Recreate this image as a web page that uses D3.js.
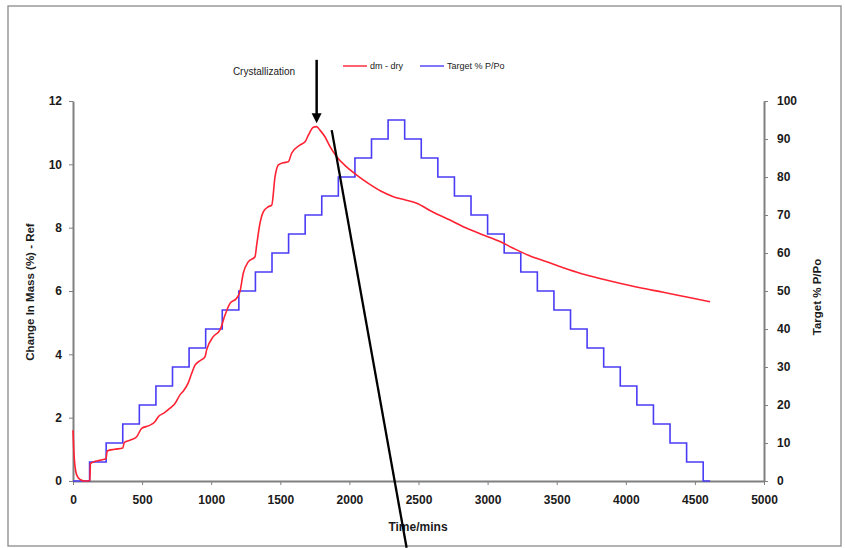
<!DOCTYPE html>
<html>
<head>
<meta charset="utf-8">
<script src="https://cdn.jsdelivr.net/npm/d3@7"></script>
<style>
  html, body { margin: 0; padding: 0; background: #fff; }
  svg { display: block; font-family: "Liberation Sans", Arial, sans-serif; }
</style>
</head>
<body>
<svg id="chart" width="845" height="548"></svg>
<script>
// ---- Data ----
const xTicks = [0, 500, 1000, 1500, 2000, 2500, 3000, 3500, 4000, 4500, 5000];
const leftTicks = [0, 2, 4, 6, 8, 10, 12];
const rightTicks = [0, 10, 20, 30, 40, 50, 60, 70, 80, 90, 100];

// Target % P/Po (step series): step start times (mins) and values (%)
const stepTimes = [0, 120, 240, 360, 480, 600, 720, 840, 960, 1080, 1200, 1320, 1440, 1560, 1680, 1800, 1920, 2040, 2160, 2280,
                   2400, 2520, 2640, 2760, 2880, 3000, 3120, 3240, 3360, 3480, 3600, 3720, 3840, 3960, 4080, 4200, 4320, 4440, 4560, 4610];
const targetPct = [0, 5, 10, 15, 20, 25, 30, 35, 40, 45, 50, 55, 60, 65, 70, 75, 80, 85, 90, 95,
                   90, 85, 80, 75, 70, 65, 60, 55, 50, 45, 40, 35, 30, 25, 20, 15, 10, 5, 0, 0];

// dm - dry (change in mass %)
const dmTime = [0, 5, 10, 20, 35, 55, 80, 110, 122, 126, 160, 200, 238, 248, 300, 360, 372, 420, 461, 497, 550, 593, 617, 660,
                702, 738, 774, 800, 834, 859, 883, 920, 955, 967, 1015, 1064, 1100, 1136, 1184, 1208, 1232, 1268, 1317, 1329,
                1353, 1377, 1413, 1438, 1462, 1486, 1522, 1558, 1582, 1642, 1679, 1703, 1739, 1763, 1787, 1823, 1860, 1908,
                1980, 2053, 2137, 2230, 2318, 2400, 2487, 2600, 2728, 2850, 2969, 3090, 3186, 3300, 3428, 3550, 3669, 3790,
                3910, 4103, 4271, 4450, 4610];
const dmValue = [1.6, 1.05, 0.68, 0.3, 0.12, 0.04, 0.0, 0.0, 0.02, 0.55, 0.62, 0.66, 0.7, 0.95, 1.0, 1.04, 1.22, 1.3, 1.4, 1.66, 1.75, 1.87, 2.03, 2.15,
                 2.3, 2.45, 2.72, 2.85, 3.1, 3.4, 3.66, 3.8, 3.92, 4.14, 4.56, 4.77, 5.24, 5.61, 5.77, 5.98, 6.56, 6.92, 7.08, 7.45,
                 8.14, 8.5, 8.66, 8.71, 9.61, 9.98, 10.05, 10.08, 10.35, 10.61, 10.71, 10.92, 11.17, 11.19, 11.08, 10.87, 10.56, 10.24,
                 9.92, 9.66, 9.4, 9.15, 8.98, 8.88, 8.77, 8.5, 8.24, 7.98, 7.77, 7.56, 7.35, 7.12, 6.92, 6.73, 6.56, 6.42,
                 6.29, 6.1, 5.96, 5.8, 5.66];

// Annotations (data coordinates)
const crystalArrow = { time: 1763, from: 13.3, to: 11.3 };
const diagLine = { t1: 1872, v1: 11.08, t2: 2414, v2: -2.11 };

// ---- Layout ----
const svg = d3.select("#chart");
const x = d3.scaleLinear().domain([0, 5000]).range([73, 764]);
const yL = d3.scaleLinear().domain([0, 12]).range([481, 101]);
const yR = d3.scaleLinear().domain([0, 100]).range([481, 101]);

// outer frame
svg.append("rect").attr("x", 8).attr("y", 6).attr("width", 833).attr("height", 540)
  .attr("fill", "#fff").attr("stroke", "#8a8a8a").attr("stroke-width", 1.3);

const axisColor = "#808080";
const textColor = "#1a1a1a";

function styleAxis(g) {
  g.select(".domain").attr("stroke", axisColor).attr("stroke-width", 2);
  g.selectAll(".tick line").attr("stroke", axisColor).attr("stroke-width", 1);
  g.selectAll(".tick text").attr("fill", textColor).attr("font-size", 12).attr("font-weight", "bold")
    .attr("font-family", "Liberation Sans, Arial, sans-serif");
}

const fmt = d3.format("d");

const gx = svg.append("g").attr("transform", "translate(0,481)")
  .call(d3.axisBottom(x).tickValues(xTicks).tickFormat(fmt).tickSize(4).tickPadding(10).tickSizeOuter(0));
styleAxis(gx);

const gl = svg.append("g").attr("transform", "translate(73,0)")
  .call(d3.axisLeft(yL).tickValues(leftTicks).tickFormat(fmt).tickSize(4).tickPadding(7).tickSizeOuter(0));
styleAxis(gl);

const gr = svg.append("g").attr("transform", "translate(764,0)")
  .call(d3.axisRight(yR).tickValues(rightTicks).tickFormat(fmt).tickSize(4).tickPadding(9).tickSizeOuter(0));
styleAxis(gr);

// axis titles
svg.append("text").attr("transform", "translate(34,292) rotate(-90)")
  .attr("text-anchor", "middle").attr("font-size", 11.5).attr("font-weight", "bold").attr("fill", textColor)
  .text("Change In Mass (%) - Ref");
svg.append("text").attr("transform", "translate(821,297) rotate(-90)")
  .attr("text-anchor", "middle").attr("font-size", 11.5).attr("font-weight", "bold").attr("fill", textColor)
  .text("Target % P/Po");
svg.append("text").attr("x", 418).attr("y", 531)
  .attr("text-anchor", "middle").attr("font-size", 12).attr("font-weight", "bold").attr("fill", textColor)
  .text("Time/mins");

// series
const stepData = stepTimes.map((t, i) => ({ t, v: targetPct[i] }));
const dmData = dmTime.map((t, i) => ({ t, v: dmValue[i] }));

svg.append("path").datum(stepData)
  .attr("fill", "none").attr("stroke", "#4a3cf5").attr("stroke-width", 1.6)
  .attr("d", d3.line().x(d => x(d.t)).y(d => yR(d.v)).curve(d3.curveStepAfter));

svg.append("path").datum(dmData)
  .attr("fill", "none").attr("stroke", "#ff2233").attr("stroke-width", 1.6).attr("stroke-linejoin", "round")
  .attr("d", d3.line().x(d => x(d.t)).y(d => yL(d.v)).curve(d3.curveMonotoneX));

// diagonal black line annotation
svg.append("line")
  .attr("x1", x(diagLine.t1)).attr("y1", yL(diagLine.v1))
  .attr("x2", x(diagLine.t2)).attr("y2", yL(diagLine.v2))
  .attr("stroke", "#000").attr("stroke-width", 2.3);

// crystallization arrow
const ax = x(crystalArrow.time), ay1 = yL(crystalArrow.from), ay2 = yL(crystalArrow.to);
svg.append("line").attr("x1", ax).attr("x2", ax).attr("y1", ay1).attr("y2", ay2 - 8)
  .attr("stroke", "#000").attr("stroke-width", 2.5);
svg.append("path")
  .attr("d", `M${ax - 5},${ay2 - 10} L${ax + 5},${ay2 - 10} L${ax},${ay2} Z`)
  .attr("fill", "#000");
svg.append("text").attr("x", 264).attr("y", 75).attr("text-anchor", "middle")
  .attr("font-size", 10).attr("fill", textColor).text("Crystallization");

// legend
const legend = [
  { label: "dm - dry", color: "#ff2233", x: 343 },
  { label: "Target % P/Po", color: "#4a3cf5", x: 420 }
];
legend.forEach(l => {
  svg.append("line").attr("x1", l.x).attr("x2", l.x + 24).attr("y1", 66).attr("y2", 66)
    .attr("stroke", l.color).attr("stroke-width", 1.4);
  svg.append("text").attr("x", l.x + 27).attr("y", 69).attr("font-size", 9).attr("fill", textColor).text(l.label);
});
</script>
</body>
</html>
